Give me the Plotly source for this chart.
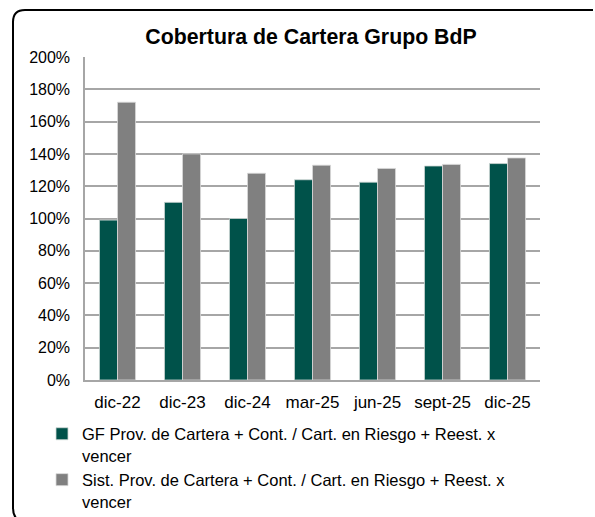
import plotly.graph_objects as go

categories = ["dic-22", "dic-23", "dic-24", "mar-25", "jun-25", "sept-25", "dic-25"]
gf_values = [0.99, 1.10, 1.00, 1.24, 1.225, 1.325, 1.34]
sist_values = [1.72, 1.40, 1.28, 1.33, 1.31, 1.335, 1.375]
series_names = [
    "GF Prov. de Cartera + Cont. / Cart. en Riesgo + Reest. x<br>vencer",
    "Sist. Prov. de Cartera + Cont. / Cart. en Riesgo + Reest. x<br>vencer",
]
tick_vals = [0, 0.2, 0.4, 0.6, 0.8, 1.0, 1.2, 1.4, 1.6, 1.8, 2.0]
tick_text = ["0%", "20%", "40%", "60%", "80%", "100%", "120%", "140%", "160%", "180%", "200%"]
title_text = "Cobertura de Cartera Grupo BdP"

W, H = 595, 517
ML, MR, MT, MB = 85, 55, 57, 137
PW, PH = W - ML - MR, H - MT - MB

def px(x):
    return (x - ML) / PW

def py(y):
    return (H - MB - y) / PH

FONT = "Liberation Sans, Arial, sans-serif"

fig = go.Figure()
fig.add_trace(go.Bar(x=categories, y=gf_values, name=series_names[0],
                     marker=dict(color="#00524A", line=dict(color="#d0d8d6", width=0.8))))
fig.add_trace(go.Bar(x=categories, y=sist_values, name=series_names[1],
                     marker=dict(color="#808080", line=dict(color="#d9d9d9", width=0.8))))

# rounded outer border (extends past the right and bottom edges)
r = 12
L, T = 13, 10
path = (f"M {px(L)},{py(508)} L {px(L)},{py(T + r)} Q {px(L)},{py(T)} {px(L + r)},{py(T)} "
        f"L {px(593)},{py(T)}")
path2 = f"M {px(L)},{py(508)} Q {px(L)},{py(519)} {px(L + 9)},{py(522)}"
for p in (path, path2):
    fig.add_shape(type="path", path=p, xref="paper", yref="paper",
                  line=dict(color="black", width=2), layer="above")

fig.update_layout(
    width=W, height=H,
    margin=dict(l=ML, r=MR, t=MT, b=MB, autoexpand=False),
    paper_bgcolor="white", plot_bgcolor="white",
    font=dict(family=FONT, color="black", size=17),
    title=dict(text="<b>" + title_text + "</b>", x=311 / W, xanchor="center",
               y=1 - 37 / H, yanchor="middle", font=dict(size=21.3, family=FONT)),
    barmode="group", bargap=0.445, bargroupgap=0,
    showlegend=True,
    legend=dict(x=px(42), y=py(416.5), xanchor="left", yanchor="top",
                font=dict(size=16.5, family=FONT), valign="top",
                tracegroupgap=0, itemclick=False, bgcolor="rgba(0,0,0,0)"),
)
fig.update_xaxes(showline=True, linecolor="#A6A6A6", linewidth=1.5, ticks="",
                 tickfont=dict(size=17), showgrid=False, ticklabelstandoff=6)
fig.update_yaxes(range=[0, 2.0], tickvals=tick_vals, ticktext=tick_text,
                 showgrid=True, gridcolor="#A6A6A6", gridwidth=1.5,
                 showline=True, linecolor="#A6A6A6", linewidth=1.5,
                 ticks="", tickfont=dict(size=16), zeroline=False,
                 ticklabelstandoff=10)

fig.write_html("out.html", config={"displayModeBar": False},
               post_script="document.body.style.margin='0';")
